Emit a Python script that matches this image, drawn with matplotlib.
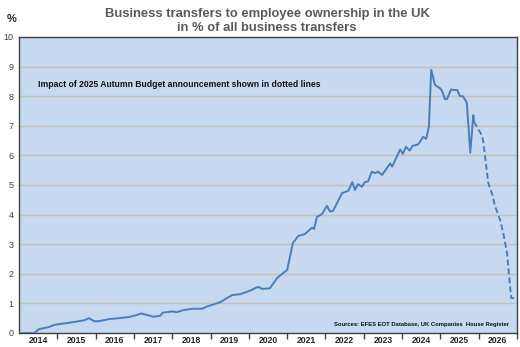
import matplotlib
matplotlib.use("Agg")
import matplotlib.pyplot as plt
from matplotlib.ticker import FixedLocator, NullFormatter

# ---- data (decimal year, % of all business transfers) ----
actual_x = [2014.00, 2014.40, 2014.52, 2014.78, 2014.91, 2015.04, 2015.17, 2015.43, 2015.70, 2015.83,
            2015.96, 2016.09, 2016.35, 2016.60, 2016.87, 2017.05, 2017.20, 2017.50, 2017.68, 2017.76,
            2018.02, 2018.12, 2018.28, 2018.54, 2018.78, 2018.90, 2019.25, 2019.56, 2019.77, 2020.03,
            2020.24, 2020.35, 2020.55, 2020.74, 2021.00, 2021.15, 2021.29, 2021.46, 2021.65, 2021.70,
            2021.78, 2021.91, 2022.04, 2022.12, 2022.20, 2022.43, 2022.60, 2022.70, 2022.77, 2022.85,
            2022.95, 2023.03, 2023.11, 2023.21, 2023.29, 2023.37, 2023.48, 2023.69, 2023.74, 2023.95,
            2024.02, 2024.10, 2024.20, 2024.27, 2024.42, 2024.55, 2024.63, 2024.70, 2024.76, 2024.86,
            2024.99, 2025.04, 2025.12, 2025.17, 2025.28, 2025.33, 2025.44, 2025.51, 2025.59, 2025.69,
            2025.78, 2025.86, 2025.88]
actual_y = [0.00, 0.00, 0.13, 0.20, 0.27, 0.30, 0.32, 0.37, 0.43, 0.50,
            0.40, 0.40, 0.47, 0.50, 0.54, 0.60, 0.66, 0.55, 0.58, 0.69,
            0.73, 0.70, 0.77, 0.82, 0.82, 0.89, 1.04, 1.28, 1.31, 1.43,
            1.56, 1.49, 1.51, 1.86, 2.13, 3.04, 3.28, 3.34, 3.56, 3.51,
            3.93, 4.02, 4.29, 4.10, 4.13, 4.72, 4.81, 5.10, 4.83, 5.03,
            4.94, 5.10, 5.12, 5.45, 5.40, 5.45, 5.34, 5.73, 5.62, 6.20,
            6.05, 6.29, 6.16, 6.32, 6.37, 6.63, 6.56, 6.97, 8.89, 8.38,
            8.27, 8.19, 7.90, 7.90, 8.23, 8.21, 8.21, 8.00, 8.00, 7.78,
            6.09, 7.36, 7.14]

impact_x = [2025.88, 2025.96, 2026.09, 2026.12, 2026.25, 2026.35, 2026.43, 2026.56, 2026.64, 2026.74,
            2026.82, 2026.85, 2026.92]
impact_y = [7.14, 6.95, 6.66, 6.45, 5.07, 4.70, 4.27, 3.82, 3.38, 2.70,
            1.56, 1.18, 1.18]

years = list(range(2014, 2027))
yticks = list(range(0, 11))

title = "Business transfers to employee ownership in the UK\nin % of all business transfers"
note = "Impact of 2025 Autumn Budget announcement shown in dotted lines"
source = "Sources: EFES EOT Database, UK Companies  House Register"

# ---- plot ----
plt.rcParams['font.family'] = ['Liberation Sans', 'DejaVu Sans']
fig = plt.figure(figsize=(5.2, 3.47), dpi=100)
ax = fig.add_axes([19/520, 14/347, 498/520, 296/347])
ax.set_facecolor('#C6D9F1')

line_color = '#4A7EBB'
ax.plot(actual_x, actual_y, color=line_color, lw=1.4, solid_joinstyle='round', zorder=3)
ax.plot(impact_x, impact_y, color=line_color, lw=1.4, dashes=(3, 1.6), zorder=3)

ax.set_xlim(2014, 2027)
ax.set_ylim(0, 10)

ax.set_yticks(yticks)
ax.set_yticklabels([str(v) for v in yticks], fontsize=6.5, color='#404040')
ax.tick_params(axis='y', length=0, pad=4)
ax.yaxis.grid(True, color='#C4C0B4', lw=1)
ax.set_axisbelow(True)

ax.xaxis.set_major_locator(FixedLocator([y + 1 for y in years]))
ax.xaxis.set_major_formatter(NullFormatter())
ax.xaxis.set_minor_locator(FixedLocator([y + 0.5 for y in years]))
ax.set_xticklabels([str(y) for y in years], minor=True, fontsize=6.2, fontweight='bold', color='#262626')
ax.tick_params(axis='x', which='major', length=4, direction='out', color='#404040', width=1)
ax.tick_params(axis='x', which='minor', length=0, pad=2.5)

for s in ax.spines.values():
    s.set_color('#404040')
    s.set_linewidth(1)

fig.text(267/520, 1 - 21/347, title, ha='center', va='center', fontsize=9.4, fontweight='bold',
         color='#595959', linespacing=1.2)
fig.text(12/520, 1 - 19/347, '%', ha='center', va='center', fontsize=8, fontweight='bold', color='#262626')
ax.text(2014.5, 8.4, note, ha='left', va='center', fontsize=6.2, fontweight='bold', color='#111111')
ax.text(2026.8, 0.3, source, ha='right', va='center', fontsize=4.2, fontweight='bold', color='#111111')

fig.savefig('out.png', dpi=100)
